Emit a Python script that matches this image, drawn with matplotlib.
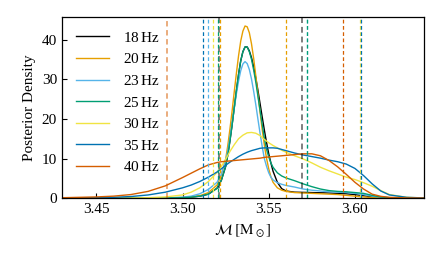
import matplotlib
matplotlib.use("Agg")
import matplotlib.pyplot as plt

plt.rcParams['font.family'] = ['Liberation Serif', 'DejaVu Serif']
plt.rcParams['mathtext.fontset'] = 'stix'
plt.rcParams['font.size'] = 11

# fine grid for the narrow posteriors (18, 20, 23, 25 Hz)
mc_fine = [3.43, 3.46, 3.48, 3.49, 3.50, 3.505, 3.51, 3.515, 3.52, 3.5225,
           3.525, 3.52625, 3.5275, 3.52875, 3.53, 3.53125, 3.5325, 3.53375, 3.535, 3.53625,
           3.5375, 3.53875, 3.54, 3.54125, 3.5425, 3.54375, 3.545, 3.54625, 3.5475, 3.54875,
           3.55, 3.55125, 3.5525, 3.555, 3.5575, 3.56, 3.565, 3.57, 3.575, 3.58,
           3.585, 3.59, 3.595, 3.60, 3.605, 3.61, 3.615, 3.62, 3.63, 3.64]
# coarse grid for the broad ones (30, 35, 40 Hz)
mc = [3.43, 3.44, 3.45, 3.46, 3.47, 3.48, 3.49, 3.50, 3.505, 3.51, 3.515, 3.52,
      3.5225, 3.525, 3.5275, 3.53, 3.5325, 3.535, 3.5375, 3.54, 3.5425, 3.545,
      3.5475, 3.55, 3.5525, 3.555, 3.5575, 3.56, 3.565, 3.57, 3.575, 3.58, 3.585,
      3.59, 3.595, 3.60, 3.605, 3.61, 3.615, 3.62, 3.63, 3.64]

labels = ['18$\\,$Hz', '20$\\,$Hz', '23$\\,$Hz', '25$\\,$Hz', '30$\\,$Hz', '35$\\,$Hz', '40$\\,$Hz']
colors = ['#000000', '#E69F00', '#56B4E9', '#009E73', '#F0E442', '#0072B2', '#D55E00']

d18 = [0, 0, 0, 0.02, 0.1, 0.25, 0.5, 1.0, 2.5, 4.5,
       8.0, 10.9, 14.5, 18.5, 22.9, 27.2, 31.3, 34.7, 37.0, 38.2,
       38.2, 37.2, 35.5, 33.2, 30.3, 27.2, 23.8, 20.4, 17.1, 14.0,
       11.2, 8.9, 6.8, 4.0, 2.4, 1.8, 1.5, 1.45, 1.4, 1.35,
       1.3, 1.2, 1.1, 0.9, 0.6, 0.3, 0.12, 0.05, 0.01, 0]
d20 = [0, 0, 0.02, 0.05, 0.15, 0.3, 0.6, 1.4, 3.3, 5.8,
       9.8, 13.3, 17.5, 22.0, 26.9, 31.6, 36.0, 39.7, 42.2, 43.5,
       43.3, 41.8, 39.0, 35.3, 30.9, 26.3, 21.6, 17.2, 13.3, 10.0,
       7.4, 5.4, 4.0, 2.6, 2.0, 1.7, 1.4, 1.3, 1.2, 1.1,
       1.0, 0.9, 0.7, 0.5, 0.3, 0.15, 0.08, 0.03, 0.01, 0]
d23 = [0, 0, 0.02, 0.05, 0.25, 0.5, 1.1, 2.2, 4.0, 6.0,
       9.6, 11.9, 15.3, 19.0, 22.7, 26.4, 29.6, 32.2, 33.9, 34.5,
       34.0, 32.5, 30.1, 27.0, 23.6, 19.9, 16.3, 12.9, 9.9, 8.0,
       6.4, 5.3, 4.6, 3.9, 3.5, 3.2, 2.8, 2.3, 2.0, 1.8,
       1.6, 1.5, 1.4, 1.2, 0.9, 0.5, 0.25, 0.1, 0.02, 0]
d25 = [0, 0, 0, 0.02, 0.1, 0.25, 0.5, 1.0, 2.5, 4.5,
       8.0, 10.9, 14.5, 18.5, 22.9, 27.2, 31.3, 34.7, 37.0, 38.2,
       38.2, 37.0, 35.1, 32.4, 29.3, 25.7, 22.1, 18.5, 15.0, 12.3,
       10.4, 8.9, 7.8, 6.4, 5.6, 5.1, 4.4, 3.6, 2.9, 2.3,
       1.9, 1.7, 1.6, 1.4, 1.2, 0.7, 0.3, 0.1, 0.02, 0]
d30 = [0, 0, 0, 0.02, 0.05, 0.1, 0.3, 0.8, 1.5, 2.6, 4.2, 6.5,
       8.0, 9.8, 11.8, 13.5, 15.0, 15.9, 16.5, 16.6, 16.4, 15.8,
       14.8, 14.0, 13.3, 12.7, 12.1, 11.6, 10.7, 9.9, 8.9, 7.8, 6.9,
       6.1, 5.3, 4.7, 3.9, 3.0, 1.9, 0.9, 0.2, 0.03]
d35 = [0.02, 0.05, 0.1, 0.2, 0.4, 0.8, 1.5, 2.6, 3.3, 4.2, 5.3, 6.6,
       7.4, 8.3, 9.1, 9.8, 10.5, 11.1, 11.6, 12.0, 12.3, 12.6,
       12.7, 12.7, 12.7, 12.6, 12.3, 12.0, 11.4, 10.9, 10.5, 10.1, 9.6,
       9.2, 8.6, 7.5, 5.7, 3.6, 1.8, 0.8, 0.2, 0.05]
d40 = [0.1, 0.2, 0.3, 0.5, 0.9, 1.7, 3.1, 5.2, 6.3, 7.4, 8.4, 9.0,
       9.2, 9.3, 9.4, 9.5, 9.6, 9.7, 9.8, 9.9, 10.0, 10.1,
       10.3, 10.4, 10.5, 10.6, 10.7, 10.8, 11.0, 11.2, 11.2, 10.7, 9.5,
       7.9, 6.0, 4.0, 2.3, 1.0, 0.45, 0.2, 0.05, 0.01]

# 90% credible interval bounds
lower = [3.5210, 3.5220, 3.5150, 3.5208, 3.5177, 3.5117, 3.4907]
upper = [3.5695, 3.5600, 3.5724, 3.5722, 3.6032, 3.6035, 3.5931]

densities = [d18, d20, d23, d25, d30, d35, d40]
grids = [mc_fine, mc_fine, mc_fine, mc_fine, mc, mc, mc]

fig = plt.figure(figsize=(4.42, 2.6), dpi=100)
ax = fig.add_axes([0.140, 0.238, 0.819, 0.697])

for i in range(len(labels)):
    ax.plot(grids[i], densities[i], color=colors[i], lw=1.0, label=labels[i])

for i in range(len(labels)):
    a = 1.0
    w = 0.9
    if i == 0:
        a = 0.5
        w = 1.4
    for j, b in enumerate([lower[i], upper[i]]):
        aa = a
        ww = w
        if i == 6 and j == 0:
            aa = 0.55
            ww = 1.3
        ax.axvline(b, color=colors[i], ls=(0, (3, 2)), lw=ww, alpha=aa)

ax.set_xlim(3.43, 3.64)
ax.set_ylim(0, 45.8)
ax.set_xticks([3.45, 3.50, 3.55, 3.60])
ax.set_yticks([0, 10, 20, 30, 40])
ax.tick_params(direction='in', length=3.5, width=0.8)
for s in ax.spines.values():
    s.set_linewidth(0.9)

ax.set_xlabel(r'$\mathcal{M}\;[\mathrm{M}_\odot]$')
ax.set_ylabel('Posterior Density')
ax.legend(loc='upper left', frameon=False, handlelength=2.2, handletextpad=0.9,
          labelspacing=0.5)

fig.savefig('out.png', dpi=100)
